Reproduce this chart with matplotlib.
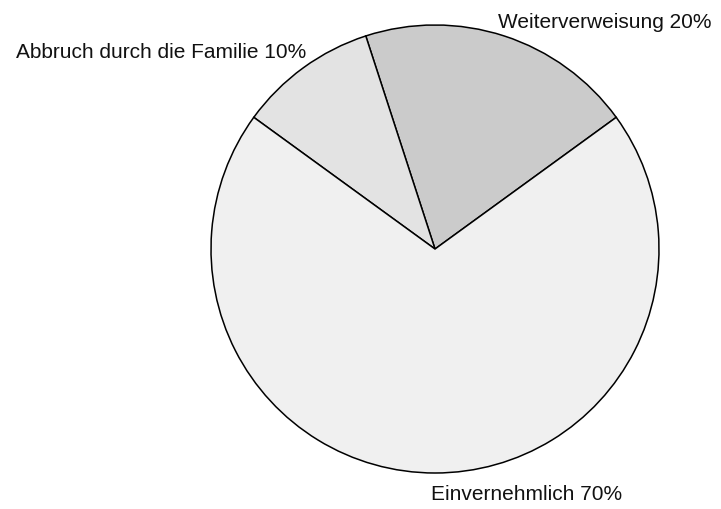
import matplotlib.pyplot as plt

plt.rcParams["font.family"] = ["Liberation Sans", "DejaVu Sans"]

categories = ["Weiterverweisung", "Abbruch durch die Familie", "Einvernehmlich"]
values = [20, 10, 70]
colors = ["#cbcbcb", "#e3e3e3", "#f0f0f0"]

# label anchors in pixel coords (x, y from top), alignment
label_pos = [(712, 22, "right"), (16, 53, "left"), (431, 495, "left")]

W, H = 721, 510
fig = plt.figure(figsize=(W / 100, H / 100), dpi=100)
ax = fig.add_axes([0, 0, 1, 1])

ax.pie(values, colors=colors, startangle=36, counterclock=True,
       center=(435, H - 250), radius=224,
       wedgeprops=dict(edgecolor="black", linewidth=1.1))

for name, val, (x, y, ha) in zip(categories, values, label_pos):
    ax.text(x, H - y, "{} {}%".format(name, val), ha=ha, va="center",
            fontsize=15, color="#111111")

ax.set_xlim(0, W)
ax.set_ylim(0, H)
ax.set_aspect("equal")
ax.axis("off")

fig.savefig("out.png", dpi=100, facecolor="white")
